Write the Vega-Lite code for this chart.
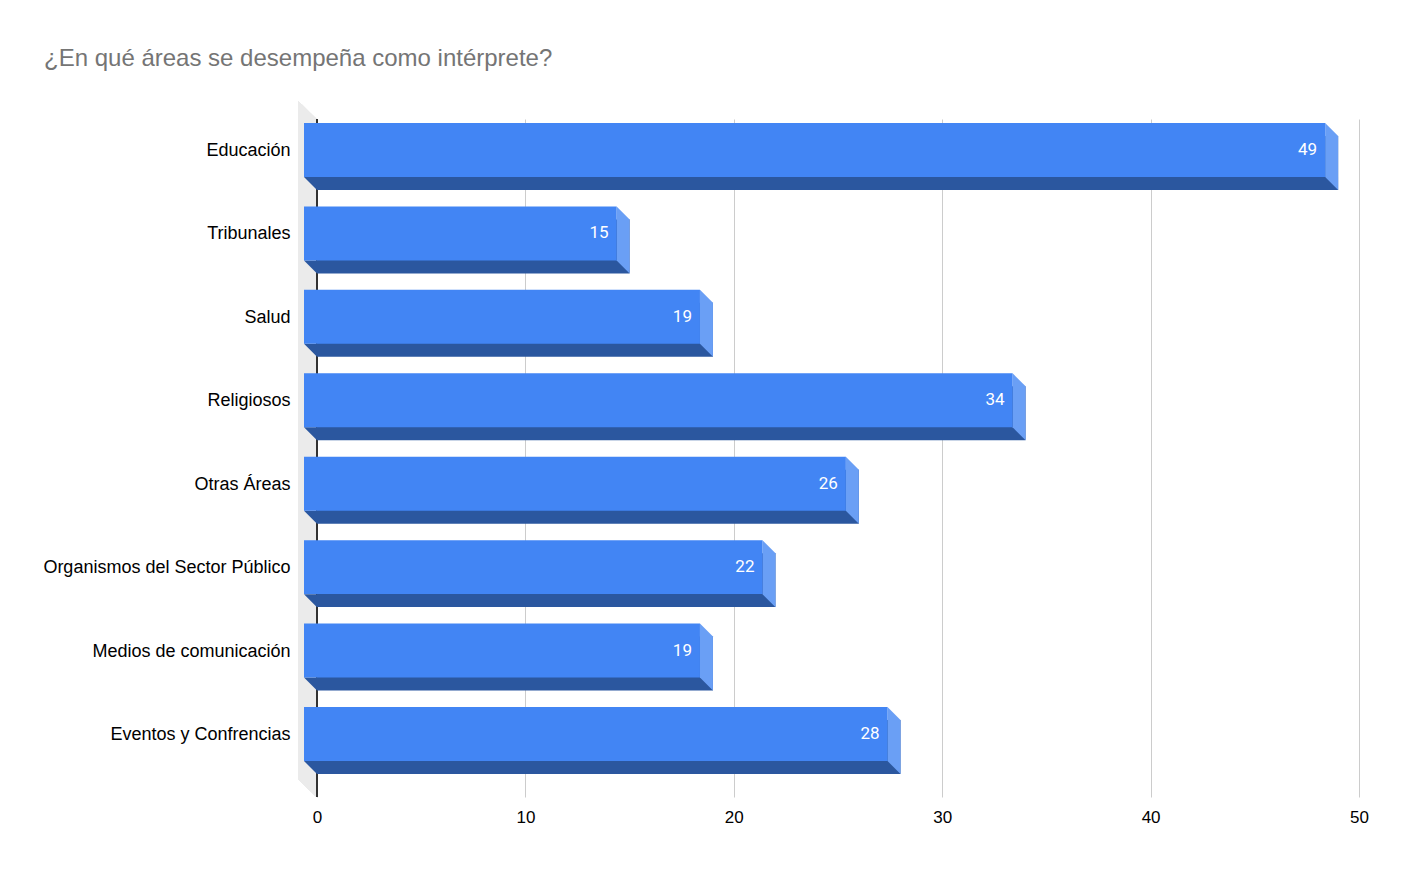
{
  "$schema": "https://vega.github.io/schema/vega-lite/v6.json",
  "autosize": "none",
  "width": 1042,
  "height": 678,
  "padding": {"left": 317, "top": 119, "right": 44, "bottom": 74},
  "background": "#ffffff",
  "title": {
    "text": "¿En qué áreas se desempeña como intérprete?",
    "anchor": "start",
    "frame": "group",
    "dx": -273,
    "offset": 30,
    "font": "Liberation Sans",
    "fontSize": 24,
    "fontWeight": "normal",
    "color": "#757575"
  },
  "config": {
    "view": {"stroke": null},
    "axis": {"labelFont": "Liberation Sans", "labelColor": "#000000", "domain": false, "ticks": false, "tickSize": 0}
  },
  "data": {
    "values": [
      {"area": "Educación", "n": 49},
      {"area": "Tribunales", "n": 15},
      {"area": "Salud", "n": 19},
      {"area": "Religiosos", "n": 34},
      {"area": "Otras Áreas", "n": 26},
      {"area": "Organismos del Sector Público", "n": 22},
      {"area": "Medios de comunicación", "n": 19},
      {"area": "Eventos y Confrencias", "n": 28}
    ]
  },
  "layer": [
    {
      "mark": {"type": "point", "filled": true, "opacity": 1, "strokeWidth": 0, "size": 4,
               "shape": "M-19,-357 L-0.5,-339 L-0.5,339 L-19,321 Z", "color": "#ebebeb"},
      "encoding": {"x": {"datum": 0, "type": "quantitative", "scale": {"domain": [0, 50], "nice": false}}}
    },
    {
      "mark": {"type": "rule", "color": "#333333", "strokeWidth": 1},
      "encoding": {"x": {"datum": 0, "type": "quantitative"}}
    },
    {
      "mark": {"type": "bar", "color": "#2b579f"},
      "encoding": {
        "y": {
          "field": "area", "type": "nominal", "sort": null, "title": null,
          "scale": {"paddingInner": 0.353, "paddingOuter": 0.24, "align": 0.425},
          "axis": {"labelFontSize": 18, "labelPadding": 27, "labelLimit": 500, "labelOffset": -12, "grid": false}
        },
        "x": {
          "field": "n", "type": "quantitative", "title": null,
          "scale": {"domain": [0, 50], "nice": false},
          "axis": {"values": [0, 10, 20, 30, 40, 50], "labelFontSize": 17, "labelPadding": 12, "labelFlush": false, "grid": true, "gridColor": "#cccccc", "labelAngle": 0}
        }
      }
    },
    {
      "mark": {"type": "point", "filled": true, "opacity": 1, "strokeWidth": 0, "size": 4,
               "shape": "M-13,14 L0,14 L0,27 Z", "color": "#2b579f"},
      "encoding": {
        "x": {"datum": 0, "type": "quantitative"},
        "y": {"field": "area", "type": "nominal", "sort": null}
      }
    },
    {
      "mark": {"type": "point", "filled": true, "opacity": 1, "strokeWidth": 0, "size": 4,
               "shape": "M-13,-40 L0,-27 L0,27 L-13,14 Z", "color": "#6a9ff5"},
      "encoding": {
        "x": {"field": "n", "type": "quantitative"},
        "y": {"field": "area", "type": "nominal", "sort": null}
      }
    },
    {
      "mark": {"type": "bar", "color": "#4285f4", "xOffset": -13, "x2Offset": -13, "yOffset": -13, "y2Offset": -13},
      "encoding": {
        "x": {"field": "n", "type": "quantitative"},
        "y": {"field": "area", "type": "nominal", "sort": null}
      }
    },
    {
      "mark": {"type": "text", "color": "#ffffff", "align": "right", "baseline": "middle",
               "xOffset": -21, "yOffset": -13, "font": "Roboto", "fontSize": 17},
      "encoding": {
        "x": {"field": "n", "type": "quantitative"},
        "y": {"field": "area", "type": "nominal", "sort": null},
        "text": {"field": "n", "type": "quantitative"}
      }
    }
  ]
}
